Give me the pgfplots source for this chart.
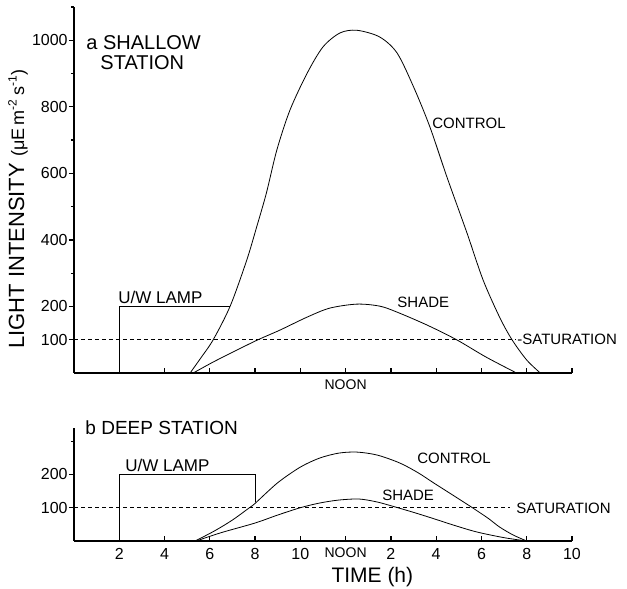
\documentclass[border=0pt]{standalone}
\usepackage{pgfplots}
\pgfplotsset{compat=1.18}
\usepackage{fontspec}
\setmainfont{Liberation Sans}

\newcommand{\noon}{{\fontsize{7}{8}\selectfont NOON}}

\tikzset{
  sat/.style={black, line width=0.5pt, dash pattern=on 2pt off 1.5pt},
  lbl/.style={anchor=west, inner sep=0pt, font=\fontsize{7.5}{9}\selectfont},
}

\pgfplotsset{
  panel/.style={
    scale only axis,
    width=249pt,
    xmin=0, xmax=22,
    axis x line*=bottom,
    axis y line*=left,
    axis line style={line width=0.6pt},
    tick align=inside,
    major tick length=2.5pt,
    minor tick length=1.6pt,
    every tick/.style={black, line width=0.6pt},
    major y tick style={xshift=-2.5pt},
    minor y tick style={xshift=-1.6pt},
    xtick={2,4,...,22},
    tick label style={font=\fontsize{8}{9}\selectfont},
    yticklabel style={inner xsep=0pt, xshift=-3pt},
    /pgf/number format/assume math mode=true,
    /pgf/number format/1000 sep={},
    cycle list={{black, line width=0.6pt, no markers}},
    clip=false,
    anchor=south west,
  },
}

\begin{document}
\begin{tikzpicture}
\useasboundingbox (0pt,0pt) rectangle (313.5pt,294.5pt);

% a  shallow station
\begin{axis}[panel, at={(37pt,108pt)}, height=183pt,
  ymin=0, ymax=1100,
  ytick={100,200,400,600,800,1000},
  minor ytick={300,500,700,900,1100},
  xticklabels={,,,,,\noon,,,,,},
]
\addplot coordinates {(2,0) (2,200) (6.9,200)};
\addplot[sat] coordinates {(0,100) (19.5,100)};
% control
\addplot+[smooth] coordinates {
  (5.13,0) (5.6,45) (6.15,100) (6.9,201) (7.63,339) (8.07,439) (8.5,541)
  (8.96,670) (9.54,790) (10.3,901) (11.0,980) (11.75,1022) (12.5,1030)
  (13.5,1010) (14.27,962) (15.0,860) (15.72,740) (16.47,590) (17.36,421)
  (18.07,280) (18.8,168) (19.35,100) (20.0,39) (20.6,0)};
% shade
\addplot+[smooth] coordinates {
  (5.27,0) (6.15,33) (7.2,69) (8.13,100) (9.1,129) (10.3,168) (11.3,195)
  (12.5,207) (13.5,201) (14.27,183) (15.6,144) (16.9,100) (18.2,48) (19.55,0)};

\node[lbl, font=\fontsize{10}{12}\selectfont] at (axis cs:0.53,992) {a SHALLOW};
\node[lbl, font=\fontsize{10}{12}\selectfont] at (axis cs:1.15,932) {STATION};
\node[lbl, font=\fontsize{8.5}{10}\selectfont] at (axis cs:1.94,228) {U/W LAMP};
\node[lbl] at (axis cs:15.81,751) {CONTROL};
\node[lbl] at (axis cs:14.27,213) {SHADE};
\node[lbl] at (axis cs:19.57,100) {-SATURATION};
\node[rotate=90, inner sep=0pt] at (axis description cs:-0.1124,0.448)
  {\fontsize{11}{13}\selectfont LIGHT INTENSITY \fontsize{9}{11}\selectfont(μE\,m\textsuperscript{-2}\,s\textsuperscript{-1})};
\end{axis}

% b  deep station
\begin{axis}[panel, at={(37pt,24pt)}, height=56.6pt,
  ymin=0, ymax=340,
  ytick={100,200},
  minor ytick={300},
  xticklabels={2,4,6,8,10,\noon,2,4,6,8,10},
]
\addplot coordinates {(2,0) (2,200) (8,200) (8,117)};
\addplot[sat] coordinates {(0,100) (19.26,100)};
% control
\addplot+[smooth] coordinates {
  (5.35,0) (6.2,30) (7.0,63) (7.75,100) (8.0,113) (9.0,175) (10.0,222)
  (10.85,249) (11.7,264) (12.5,267) (13.4,258) (14.4,234) (15.2,205)
  (15.9,174) (16.8,135) (17.6,100) (18.3,68) (18.8,42) (19.4,18) (20.0,0)};
% shade
\addplot+[smooth] coordinates {
  (5.4,0) (6.5,25) (8.0,54) (9.0,78) (10.0,100) (10.85,114) (11.7,123)
  (12.6,126) (13.4,117) (14.2,102) (15.0,86) (15.8,69) (16.8,47) (17.8,27)
  (19.0,10) (20.0,0)};

\node[lbl, font=\fontsize{9.5}{11}\selectfont] at (axis cs:0.49,339) {b DEEP STATION};
\node[lbl, font=\fontsize{8.5}{10}\selectfont] at (axis cs:2.25,227) {U/W LAMP};
\node[lbl] at (axis cs:15.15,249) {CONTROL};
\node[lbl] at (axis cs:13.6,138) {SHADE};
\node[lbl] at (axis cs:19.52,99) {SATURATION};
\node[inner sep=0pt, yshift=-18pt, font=\fontsize{10.5}{12}\selectfont] at (axis cs:13.18,0) {TIME (h)};
\end{axis}
\end{tikzpicture}
\end{document}
